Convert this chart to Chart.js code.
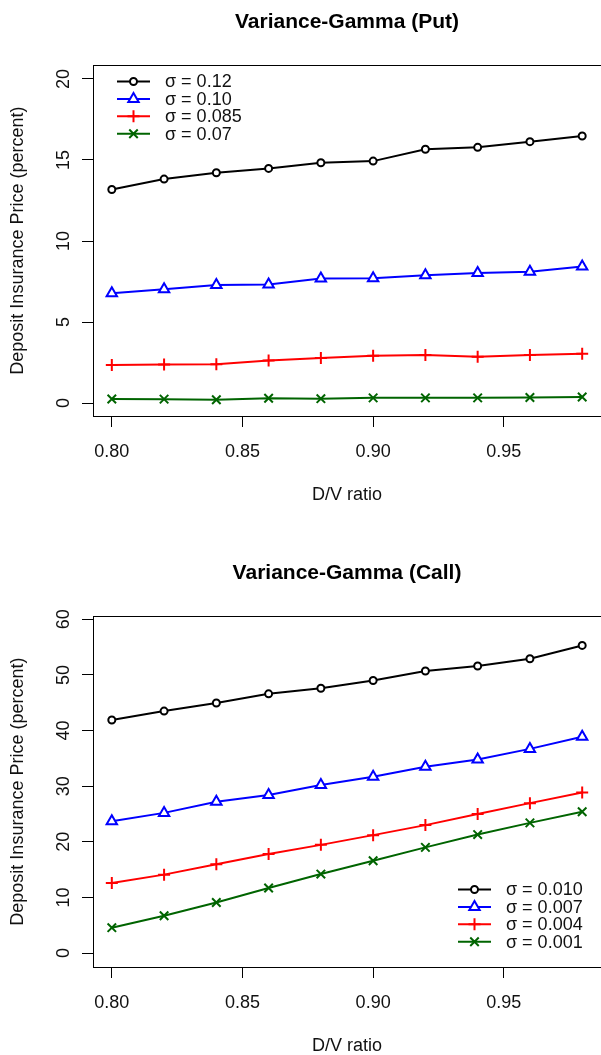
<!DOCTYPE html>
<html>
<head>
<meta charset="utf-8">
<script src="https://cdn.jsdelivr.net/npm/chart.js@4.4.1/dist/chart.umd.min.js"></script>
<style>
  html, body { margin: 0; padding: 0; background: #fff; overflow: hidden; }
  canvas { position: absolute; left: 0; }
  #putChart { top: 0; }
  #callChart { top: 551px; }
</style>
</head>
<body>
<canvas id="putChart" width="601" height="551"></canvas>
<canvas id="callChart" width="601" height="551"></canvas>
<script>
// D/V ratio (x values, shared by both panels)
var dvRatio = [0.80, 0.82, 0.84, 0.86, 0.88, 0.90, 0.92, 0.94, 0.96, 0.98];
var xTicks = [0.80, 0.85, 0.90, 0.95];

// Put panel
var putLabels = ['σ = 0.12', 'σ = 0.10', 'σ = 0.085', 'σ = 0.07'];
var putSigma012 = [13.18, 13.82, 14.21, 14.48, 14.83, 14.93, 15.66, 15.78, 16.13, 16.48];
var putSigma010 = [6.78, 7.02, 7.28, 7.32, 7.68, 7.70, 7.88, 8.02, 8.10, 8.42];
var putSigma0085 = [2.35, 2.38, 2.40, 2.62, 2.78, 2.92, 2.97, 2.86, 2.96, 3.04];
var putSigma007 = [0.25, 0.24, 0.20, 0.30, 0.27, 0.32, 0.32, 0.32, 0.34, 0.37];
var putYTicks = [0, 5, 10, 15, 20];

// Call panel
var callLabels = ['σ = 0.010', 'σ = 0.007', 'σ = 0.004', 'σ = 0.001'];
var callSigma0010 = [41.9, 43.5, 44.95, 46.6, 47.6, 49.0, 50.7, 51.6, 52.9, 55.3];
var callSigma0007 = [23.7, 25.2, 27.2, 28.4, 30.2, 31.7, 33.5, 34.8, 36.7, 38.9];
var callSigma0004 = [12.6, 14.1, 15.95, 17.8, 19.45, 21.2, 23.0, 25.0, 26.95, 28.85];
var callSigma0001 = [4.57, 6.72, 9.1, 11.7, 14.2, 16.6, 19.0, 21.3, 23.4, 25.4];
var callYTicks = [0, 10, 20, 30, 40, 50, 60];

var FONT = '"Liberation Sans", Arial, sans-serif';
var TXT = '#111';
var seriesStyle = [
  { color: '#000000', point: 'circle', r: 3.5 },
  { color: '#0000FF', point: 'triangle', r: 6 },
  { color: '#FF0000', point: 'cross', r: 6 },
  { color: '#006400', point: 'crossRot', r: 6 }
];

function pairs(ys) {
  return dvRatio.map(function (x, i) { return { x: x, y: ys[i] }; });
}

function makeDatasets(labels, series) {
  return series.map(function (ys, i) {
    var st = seriesStyle[i];
    return {
      label: labels[i],
      data: pairs(ys),
      borderColor: st.color,
      borderWidth: 2,
      pointStyle: st.point,
      pointRadius: st.r,
      pointBorderWidth: 2,
      pointBorderColor: st.color,
      pointBackgroundColor: '#fff',
      tension: 0,
      fill: false
    };
  });
}

// box around the plot region, like R's box() (right side runs off the picture)
var boxPlugin = {
  id: 'rBox',
  afterDraw: function (chart) {
    var a = chart.chartArea, ctx = chart.ctx;
    ctx.save();
    ctx.strokeStyle = '#000';
    ctx.lineWidth = 1;
    ctx.strokeRect(Math.round(a.left) + 0.5, Math.round(a.top) + 0.5, a.right - a.left + 4, Math.round(a.bottom - a.top));
    ctx.restore();
  }
};

// legend without frame, drawn inside the plot
var legendPlugin = {
  id: 'rLegend',
  afterDraw: function (chart, args, opts) {
    var ctx = chart.ctx;
    chart.data.datasets.forEach(function (ds, i) {
      var y = opts.y + i * 17.4;
      ctx.save();
      ctx.strokeStyle = ds.borderColor;
      ctx.lineWidth = 2;
      ctx.beginPath();
      ctx.moveTo(opts.x, y);
      ctx.lineTo(opts.x + 33, y);
      ctx.stroke();
      ctx.fillStyle = '#fff';
      Chart.helpers.drawPoint(ctx, { pointStyle: ds.pointStyle, radius: ds.pointRadius, borderWidth: 2, rotation: 0 }, opts.x + 16.5, y);
      ctx.fillStyle = TXT;
      ctx.font = '18px ' + FONT;
      ctx.textBaseline = 'middle';
      ctx.textAlign = 'left';
      ctx.fillText(ds.label, opts.x + 48, y + 1);
      ctx.restore();
    });
  }
};

function makeChart(id, title, datasets, yMin, yMax, yTicks, legendPos) {
  return new Chart(document.getElementById(id), {
    type: 'line',
    data: { datasets: datasets },
    plugins: [boxPlugin, legendPlugin],
    options: {
      responsive: false,
      animation: false,
      devicePixelRatio: 1,
      layout: { padding: 0, autoPadding: false },
      plugins: {
        legend: { display: false },
        tooltip: { enabled: false },
        title: {
          display: true,
          text: title,
          fullSize: false,
          color: '#000',
          font: { family: FONT, size: 21, weight: 'bold' },
          padding: { top: 10, bottom: 30 }
        },
        rLegend: legendPos
      },
      scales: {
        x: {
          type: 'linear',
          min: 0.7928,
          max: 0.9872,
          afterBuildTicks: function (s) { s.ticks = xTicks.map(function (v) { return { value: v }; }); },
          afterFit: function (s) { s.height = 135; s.paddingLeft = 0; s.paddingRight = 0; },
          ticks: {
            color: TXT,
            font: { family: FONT, size: 18 },
            padding: 14,
            maxRotation: 0,
            callback: function (v) { return Number(v).toFixed(2); }
          },
          grid: { drawOnChartArea: false, tickLength: 11, color: '#000', lineWidth: 1 },
          border: { display: false },
          title: {
            display: true,
            text: 'D/V ratio',
            color: TXT,
            font: { family: FONT, size: 18 },
            padding: { top: 0, bottom: 45 }
          }
        },
        y: {
          min: yMin,
          max: yMax,
          afterBuildTicks: function (s) { s.ticks = yTicks.map(function (v) { return { value: v }; }); },
          afterFit: function (s) { s.width = 93; s.paddingTop = 0; s.paddingBottom = 0; },
          ticks: {
            color: TXT,
            font: { family: FONT, size: 18 },
            minRotation: 90,
            maxRotation: 90,
            crossAlign: 'center',
            padding: 8
          },
          grid: { drawOnChartArea: false, tickLength: 11, color: '#000', lineWidth: 1 },
          border: { display: false },
          title: {
            display: true,
            text: 'Deposit Insurance Price (percent)',
            color: TXT,
            font: { family: FONT, size: 18 },
            padding: { top: 7, bottom: 0 }
          }
        }
      }
    }
  });
}

makeChart('putChart', 'Variance-Gamma (Put)',
  makeDatasets(putLabels, [putSigma012, putSigma010, putSigma0085, putSigma007]),
  -0.8, 20.85, putYTicks, { x: 117, y: 81.5 });

makeChart('callChart', 'Variance-Gamma (Call)',
  makeDatasets(callLabels, [callSigma0010, callSigma0007, callSigma0004, callSigma0001]),
  -2.5, 60.55, callYTicks, { x: 458, y: 338.5 });
</script>
</body>
</html>
